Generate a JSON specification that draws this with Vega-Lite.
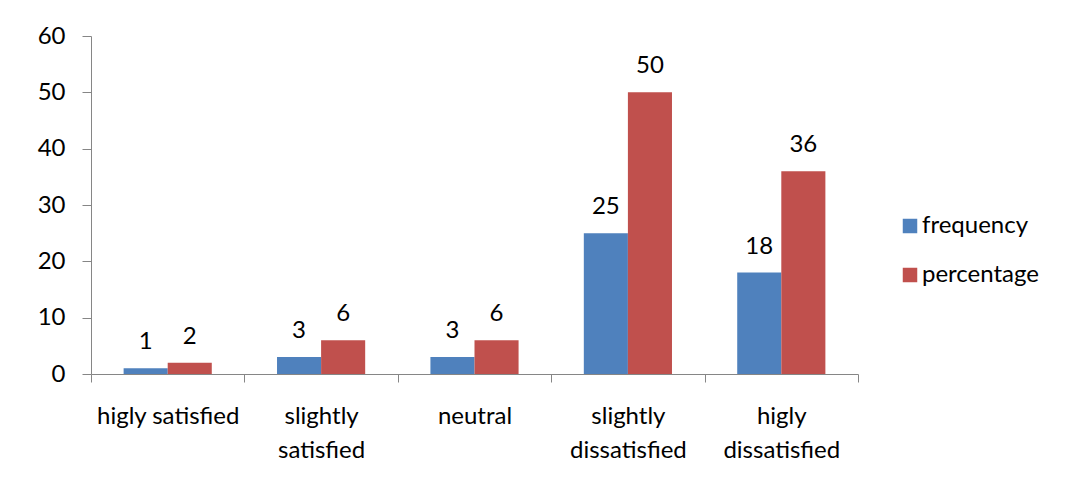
{
  "$schema": "https://vega.github.io/schema/vega-lite/v6.json",
  "width": 767,
  "height": 338,
  "autosize": {"type": "none"},
  "padding": {"left": 91, "top": 36, "right": 208, "bottom": 114},
  "background": "white",
  "config": {"view": {"stroke": null}, "font": "Lato"},
  "data": {
    "values": [
      {"category": "higly satisfied", "series": "frequency", "value": 1},
      {"category": "higly satisfied", "series": "percentage", "value": 2},
      {"category": "slightly satisfied", "series": "frequency", "value": 3},
      {"category": "slightly satisfied", "series": "percentage", "value": 6},
      {"category": "neutral", "series": "frequency", "value": 3},
      {"category": "neutral", "series": "percentage", "value": 6},
      {"category": "slightly dissatisfied", "series": "frequency", "value": 25},
      {"category": "slightly dissatisfied", "series": "percentage", "value": 50},
      {"category": "higly dissatisfied", "series": "frequency", "value": 18},
      {"category": "higly dissatisfied", "series": "percentage", "value": 36}
    ]
  },
  "encoding": {
    "x": {
      "field": "category",
      "type": "nominal",
      "sort": ["higly satisfied", "slightly satisfied", "neutral", "slightly dissatisfied", "higly dissatisfied"],
      "scale": {"paddingInner": 0, "paddingOuter": 0},
      "axis": {
        "title": null,
        "labelAngle": 0,
        "labelExpr": "datum.label == 'higly satisfied' ? datum.label : split(datum.label, ' ')",
        "labelFont": "Lato",
        "labelFontSize": 24,
        "labelColor": "#000000",
        "labelLineHeight": 34,
        "labelPadding": 22,
        "tickBand": "extent",
        "tickSize": 8,
        "tickColor": "#868686",
        "domainColor": "#868686",
        "labelBaseline": "top"
      }
    },
    "xOffset": {
      "field": "series",
      "type": "nominal",
      "sort": ["frequency", "percentage"],
      "scale": {"paddingInner": 0, "paddingOuter": 0.74}
    },
    "y": {
      "field": "value",
      "type": "quantitative",
      "scale": {"domain": [0, 60]},
      "axis": {
        "title": null,
        "values": [0, 10, 20, 30, 40, 50, 60],
        "grid": false,
        "labelFont": "Lato",
        "labelFontSize": 24,
        "labelColor": "#000000",
        "labelPadding": 17,
        "tickSize": 9,
        "tickColor": "#868686",
        "domainColor": "#868686"
      }
    }
  },
  "layer": [
    {
      "mark": {"type": "bar"},
      "encoding": {
        "color": {
          "field": "series",
          "type": "nominal",
          "scale": {"domain": ["frequency", "percentage"], "range": ["#4F81BD", "#C0504D"]},
          "legend": {
            "title": null,
            "orient": "none",
            "legendX": 807,
            "legendY": 178,
            "padding": 0,
            "symbolType": "square",
            "symbolSize": 210,
            "symbolStrokeWidth": 0,
            "labelFont": "Lato",
            "labelFontSize": 24,
            "labelColor": "#000000",
            "labelOffset": 0,
            "rowPadding": 25
          }
        }
      }
    },
    {
      "mark": {"type": "text", "baseline": "alphabetic", "dy": -19, "fontSize": 24, "font": "Lato", "color": "#000000"},
      "encoding": {"text": {"field": "value", "type": "quantitative"}}
    }
  ]
}
